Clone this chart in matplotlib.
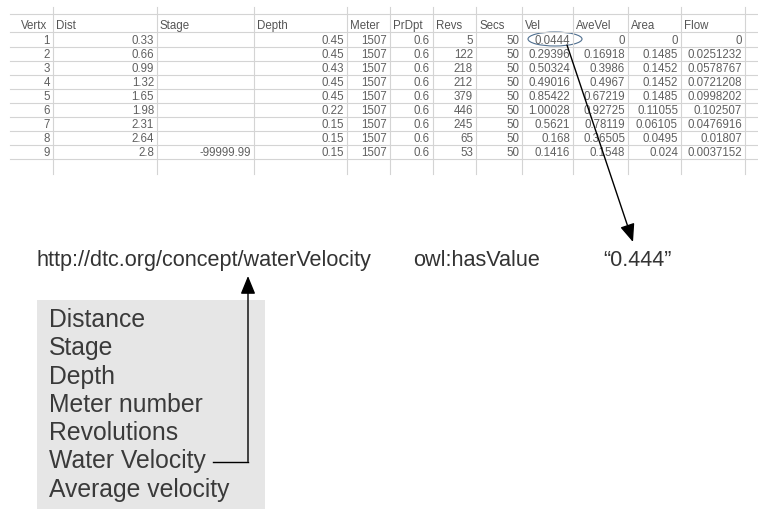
import matplotlib.pyplot as plt
from matplotlib.patches import Ellipse, Rectangle

plt.rcParams['font.family'] = ['Liberation Sans', 'DejaVu Sans']

# spreadsheet data
headers = ['Vertx', 'Dist', 'Stage', 'Depth', 'Meter', 'PrDpt', 'Revs', 'Secs',
           'Vel', 'AveVel', 'Area', 'Flow']
vertx = [1, 2, 3, 4, 5, 6, 7, 8, 9]
dist = [0.33, 0.66, 0.99, 1.32, 1.65, 1.98, 2.31, 2.64, 2.8]
stage = [None, None, None, None, None, None, None, None, -99999.99]
depth = [0.45, 0.45, 0.43, 0.45, 0.45, 0.22, 0.15, 0.15, 0.15]
meter = [1507] * 9
prdpt = [0.6] * 9
revs = [5, 122, 218, 212, 379, 446, 245, 65, 53]
secs = [50] * 9
vel = [0.0444, 0.29396, 0.50324, 0.49016, 0.85422, 1.00028, 0.5621, 0.168, 0.1416]
avevel = [0, 0.16918, 0.3986, 0.4967, 0.67219, 0.92725, 0.78119, 0.36505, 0.1548]
area = [0, 0.1485, 0.1452, 0.1452, 0.1485, 0.11055, 0.06105, 0.0495, 0.024]
flow = [0, 0.0251232, 0.0578767, 0.0721208, 0.0998202, 0.102507, 0.0476916,
        0.01807, 0.0037152]
columns = [vertx, dist, stage, depth, meter, prdpt, revs, secs, vel, avevel, area, flow]

# diagram labels
subject = 'http://dtc.org/concept/waterVelocity'
predicate = 'owl:hasValue'
literal = '\u201c0.444\u201d'
concepts = ['Distance', 'Stage', 'Depth', 'Meter number', 'Revolutions',
            'Water Velocity', 'Average velocity']

fig = plt.figure(figsize=(7.58, 5.10), dpi=100)
ax = fig.add_axes([0, 0, 1, 1])
ax.set_xlim(0, 758)
ax.set_ylim(510, 0)
ax.axis('off')

########table########
edges = [18, 53, 157, 254, 347, 390, 433, 476, 522, 573, 628, 681, 745]
grid = '#d4d4d4'
for x in edges[1:]:
    ax.plot([x, x], [8, 175], color=grid, lw=0.8)
row_y = [41 + 14 * i for i in range(len(vertx))]
hl = [15, 33] + [y + 7 for y in row_y]
for y in hl:
    ax.plot([10, 758], [y, y], color=grid, lw=0.8)

for j, h in enumerate(headers):
    ax.text(edges[j] + 3, 26, h, fontsize=8.3, color='#555555', va='center', ha='left')
    for i, v in enumerate(columns[j]):
        if v is None:
            continue
        ax.text(edges[j + 1] - 3, row_y[i], str(v), fontsize=8.3, color='#606060',
                va='center', ha='right')

ax.add_patch(Ellipse((555, 40), 54, 14, fill=False, ec='#4f6f8f', lw=0.8))
ax.annotate('', xy=(633, 243), xytext=(567, 46),
            arrowprops=dict(arrowstyle='-|>,head_length=1.1,head_width=0.45',
                            color='black', lw=1.0, shrinkA=0, shrinkB=0))

########triple########
tc = '#333333'
ax.text(37, 266, subject, fontsize=15.6, color=tc, va='baseline', ha='left')
ax.text(413, 266, predicate, fontsize=15.6, color=tc, va='baseline', ha='left')
ax.text(603, 266, literal, fontsize=15.6, color=tc, va='baseline', ha='left')

########concept box########
ax.add_patch(Rectangle((37, 301), 228, 215, color='#e6e6e6', lw=0))
for k, c in enumerate(concepts):
    ax.text(49, 320 + 28.3 * k, c, fontsize=17.8, color='#3a3a3a', va='center', ha='left')

wy = 320 + 28.3 * concepts.index('Water Velocity') + 1
ax.plot([213, 248], [wy, wy], color='black', lw=1.0)
ax.annotate('', xy=(248, 277), xytext=(248, wy),
            arrowprops=dict(arrowstyle='-|>,head_length=1.1,head_width=0.45',
                            color='black', lw=1.0, shrinkA=0, shrinkB=0))

fig.savefig('out.png', dpi=100)
